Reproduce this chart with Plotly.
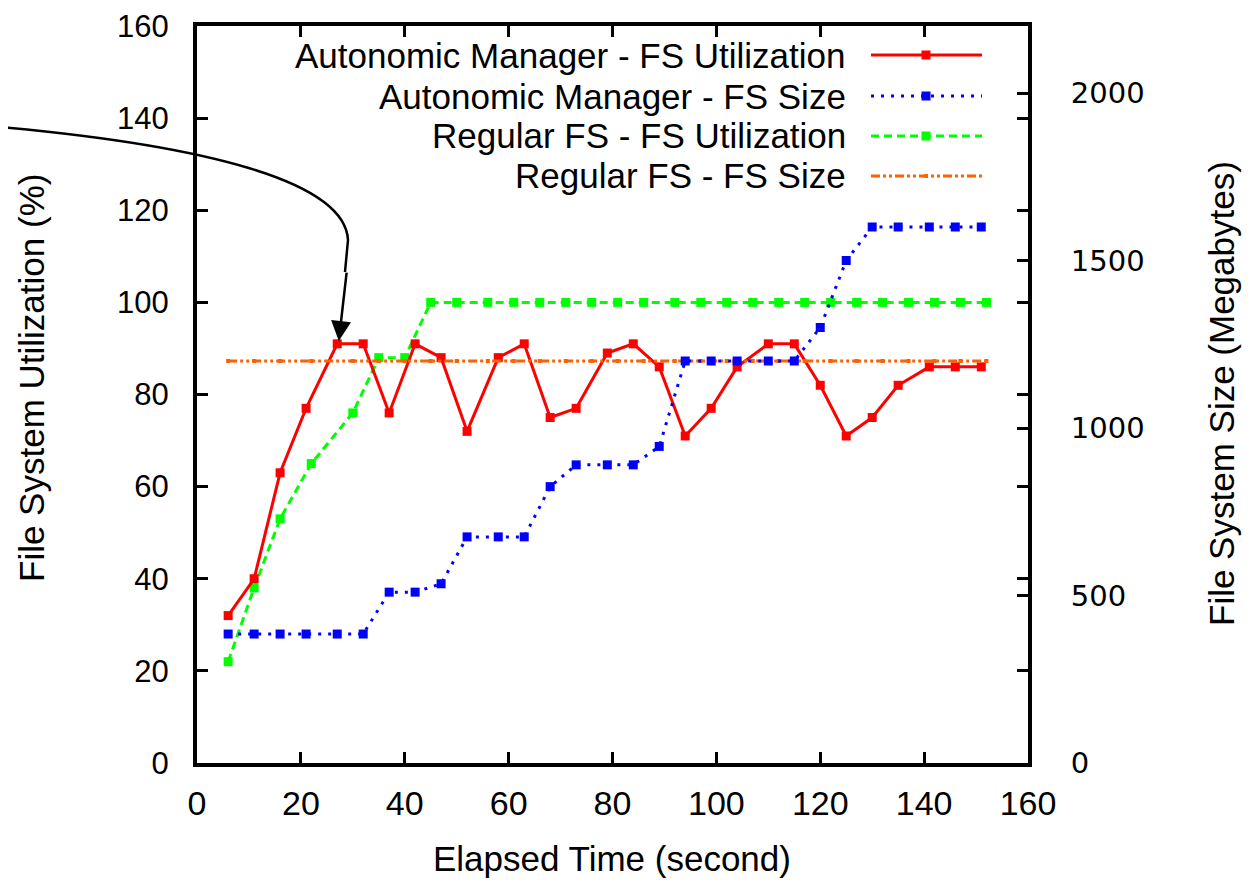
import plotly.graph_objects as go

# ---------------- data ----------------
t_am = [6, 11, 16, 21, 27, 32, 37, 42, 47, 52, 58, 63, 68, 73, 79, 84, 89, 94, 99, 104,
        110, 115, 120, 125, 130, 135, 141, 146, 151]
am_util = [32, 40, 63, 77, 91, 91, 76, 91, 88, 72, 88, 91, 75, 77, 89, 91, 86, 71, 77, 86,
           91, 91, 82, 71, 75, 82, 86, 86, 86]
am_size = [385, 385, 385, 385, 385, 385, 510, 510, 535, 675, 675, 675, 825, 890, 890, 890,
           945, 1200, 1200, 1200, 1200, 1200, 1300, 1500, 1600, 1600, 1600, 1600, 1600]
t_reg = [6, 11, 16, 22, 30, 35, 40, 45, 50, 56, 61, 66, 71, 76, 81, 86, 92, 97, 102, 107,
         112, 117, 122, 127, 132, 137, 142, 147, 152]
reg_util = [22, 38, 53, 65, 76, 88, 88, 100, 100, 100, 100, 100, 100, 100, 100, 100, 100,
            100, 100, 100, 100, 100, 100, 100, 100, 100, 100, 100, 100]
reg_size = [1200] * len(t_reg)

series_names = ["Autonomic Manager - FS Utilization", "Autonomic Manager - FS Size",
                "Regular FS - FS Utilization", "Regular FS - FS Size"]
x_ticks = [0, 20, 40, 60, 80, 100, 120, 140, 160]
y_ticks = [0, 20, 40, 60, 80, 100, 120, 140, 160]
y2_ticks = [0, 500, 1000, 1500, 2000]

RED, BLUE, GREEN, ORANGE = "#ff0000", "#0000ff", "#00ff00", "#ff6000"
styles = [
    dict(color=RED, dash="solid", width=3, msize=9),
    dict(color=BLUE, dash="3px,7px", width=3, msize=9),
    dict(color=GREEN, dash="8px,5px", width=3, msize=9),
    dict(color=ORANGE, dash="9px,3px,3px,3px,3px,3px", width=3, msize=4),
]

fig = go.Figure()
data = [(t_am, am_util, "y"), (t_am, am_size, "y2"), (t_reg, reg_util, "y"), (t_reg, reg_size, "y2")]
order = [3, 1, 2, 0]
for i in order:
    xs, ys, ax = data[i]
    s = styles[i]
    fig.add_trace(go.Scatter(
        x=xs, y=ys, yaxis=ax, name=series_names[i], mode="lines+markers",
        line=dict(color=s["color"], width=s["width"], dash=s["dash"]),
        marker=dict(symbol="square", size=s["msize"], color=s["color"]),
        showlegend=False, cliponaxis=False))

# ---------------- layout ----------------
OFF = 8  # page body margin
W, H = 1250 - OFF, 885 - OFF
L, R, T, B = 197 - OFF, 222, 26 - OFF, 122
pw, ph = W - L - R, H - T - B

def px2paper(px, py):
    """page pixel -> paper coordinate"""
    return (px - OFF - L) / pw, (OFF + H - B - py) / ph

axis_common = dict(showline=True, linecolor="black", linewidth=4, ticks="inside",
                   ticklen=11, tickwidth=3, tickcolor="black", showgrid=False,
                   zeroline=False, automargin=False, ticklabeloverflow="allow")

fig.update_layout(
    width=W, height=H, margin=dict(l=L, r=R, t=T, b=B, autoexpand=False),
    paper_bgcolor="white", plot_bgcolor="white",
    xaxis=dict(range=[0, 160], tickvals=x_ticks, mirror="ticks",
               tickfont=dict(family="Liberation Sans, Arial", size=34, color="black"),
               ticklabelstandoff=7, **axis_common),
    yaxis=dict(range=[0, 160], tickvals=y_ticks, mirror="ticks",
               tickfont=dict(family="Liberation Sans, Arial", size=31, color="black"),
               ticklabelstandoff=18, **axis_common),
    yaxis2=dict(range=[0, 2200], tickvals=y2_ticks, overlaying="y", side="right",
                tickfont=dict(family="DejaVu Sans", size=29, color="black"),
                ticklabelstandoff=33, **axis_common),
)

annotations = []
shapes = []
title_font = dict(family="Liberation Sans, Arial", size=35, color="black")
annotations.append(dict(text="Elapsed Time (second)", xref="paper", yref="paper",
                        x=px2paper(612, 0)[0], y=px2paper(0, 858)[1], showarrow=False,
                        font=title_font, xanchor="center", yanchor="middle"))
annotations.append(dict(text="File System Utilization (%)", xref="paper", yref="paper",
                        x=px2paper(31, 0)[0], y=px2paper(0, 378)[1], showarrow=False,
                        textangle=-90, font=title_font, xanchor="center", yanchor="middle"))
annotations.append(dict(text="File System Size (Megabytes)", xref="paper", yref="paper",
                        x=px2paper(1222, 0)[0], y=px2paper(0, 394)[1], showarrow=False,
                        textangle=-90, font=title_font, xanchor="center", yanchor="middle"))

# manual legend (text left, sample right)
legend_rows = [55, 96, 136, 176]
leg_font = dict(family="Liberation Sans, Arial", size=35, color="black")
for i, py in enumerate(legend_rows):
    s = styles[i]
    xt, yt = px2paper(848, py)
    annotations.append(dict(text=series_names[i], xref="paper", yref="paper", x=xt, y=yt,
                            xanchor="right", yanchor="middle", showarrow=False, font=leg_font))
    x0, _ = px2paper(871, py)
    x1, _ = px2paper(982, py)
    shapes.append(dict(type="line", xref="paper", yref="paper", x0=x0, x1=x1, y0=yt, y1=yt,
                       line=dict(color=s["color"], width=s["width"], dash=s["dash"])))
    hs = s["msize"] / 2
    mx0, my0 = px2paper(926 - hs, py + hs)
    mx1, my1 = px2paper(926 + hs, py - hs)
    shapes.append(dict(type="rect", xref="paper", yref="paper", x0=mx0, x1=mx1, y0=my0, y1=my1,
                       fillcolor=s["color"], line=dict(width=0)))

# curved arrow
P0 = px2paper(0, 127)
P1 = px2paper(200, 145)
P2 = px2paper(345, 180)
P3 = px2paper(348, 240)
P4 = px2paper(345, 272)
path = (f"M {P0[0]},{P0[1]} C {P1[0]},{P1[1]} {P2[0]},{P2[1]} {P3[0]},{P3[1]} "
        f"L {P4[0]},{P4[1]}")
shapes.append(dict(type="path", xref="paper", yref="paper", path=path,
                   line=dict(color="black", width=2.5)))
annotations.append(dict(x=27.3, y=91.6, xref="x", yref="y", ax=8, ay=-70, text="",
                        showarrow=True, arrowhead=2, arrowsize=1.6, arrowwidth=2.5,
                        arrowcolor="black"))

fig.update_layout(annotations=annotations, shapes=shapes)
fig.write_html("out.html")
